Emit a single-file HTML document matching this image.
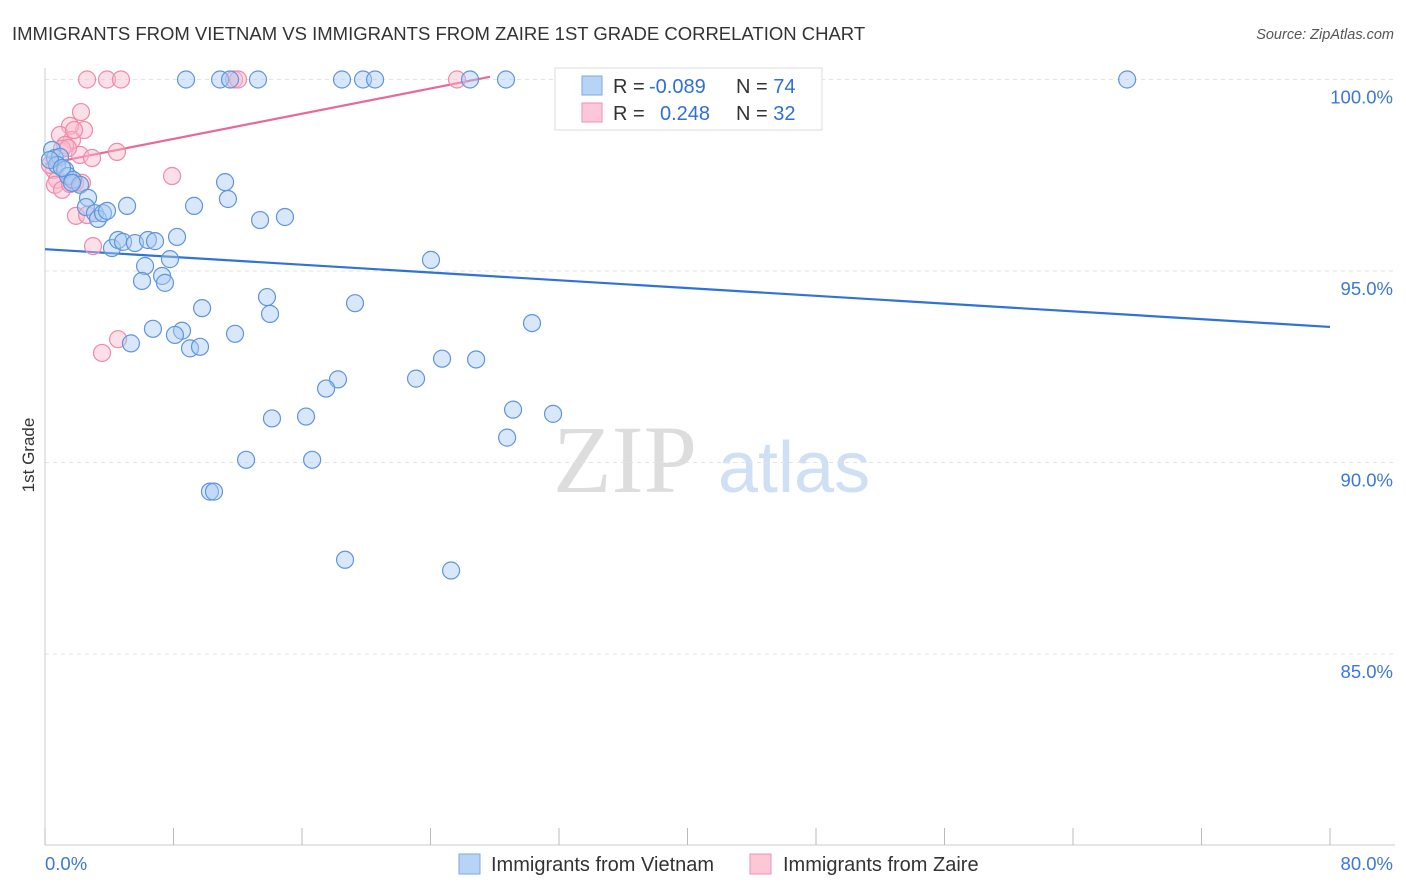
<!DOCTYPE html>
<html><head><meta charset="utf-8"><style>
body{margin:0;background:#fff;font-family:"Liberation Sans",sans-serif;}
#wrap{position:relative;width:1406px;height:892px;overflow:hidden;}
</style></head><body>
<div id="wrap">
<svg id="chart" width="1406" height="892">
<text x="12" y="40" font-size="18.5" fill="#333">IMMIGRANTS FROM VIETNAM VS IMMIGRANTS FROM ZAIRE 1ST GRADE CORRELATION CHART</text>
<text x="1394" y="39" font-size="14.5" fill="#555" font-style="italic" text-anchor="end">Source: ZipAtlas.com</text>
<text transform="translate(34,455) rotate(-90)" font-size="17" fill="#333" text-anchor="middle">1st Grade</text>
<g>
<text x="553" y="492" font-family="Liberation Serif,serif" font-size="96" fill="#ddd">ZIP</text>
<text x="718" y="492" font-size="72" fill="#cfe0f4">atlas</text>
</g>
<g id="grid"></g><g id="axes"></g><g id="lines"></g><g id="pts"></g>
<g>
<rect x="555" y="68" width="267" height="62" fill="#fff" stroke="#ddd"/>
<rect x="582" y="76" width="20" height="19" fill="#b8d4f5" stroke="#7aaae6"/>
<rect x="582" y="103" width="20" height="19" fill="#fcc8d8" stroke="#f090b0"/>
<text x="613" y="93" font-size="20" fill="#333">R = <tspan x="649" fill="#2f6fd6">-0.089</tspan><tspan x="736">N = </tspan><tspan fill="#2f6fd6">74</tspan></text>
<text x="613" y="120" font-size="20" fill="#333">R = <tspan x="660" fill="#2f6fd6">0.248</tspan><tspan x="736">N = </tspan><tspan fill="#2f6fd6">32</tspan></text>
</g>
<g>
<rect x="459" y="854" width="21" height="20" fill="#b8d4f5" stroke="#7aaae6"/>
<text x="491" y="871" font-size="20" fill="#333">Immigrants from Vietnam</text>
<rect x="750" y="854" width="21" height="20" fill="#fcc8d8" stroke="#f090b0"/>
<text x="783" y="871" font-size="20" fill="#333">Immigrants from Zaire</text>
</g>
</svg>
</div>
<script>
const yTicks=[100,95,90,85];
const yTickLabels=["100.0%","95.0%","90.0%","85.0%"];
const xTickLabels=["0.0%","80.0%"];
const vietX=[0.44,0.62,0.93,0.75,1.25,1.43,1.74,2.18,2.68,2.55,3.11,3.30,3.61,3.86,5.11,4.17,4.55,4.86,5.60,6.41,6.85,8.22,6.23,7.29,6.04,7.47,7.78,9.28,11.21,11.39,13.39,14.94,24.03,9.78,13.82,14.01,19.30,30.32,6.72,8.53,8.09,11.83,5.35,9.03,9.65,24.72,26.84,18.24,17.50,23.10,14.13,16.25,29.14,31.63,28.77,12.52,16.63,10.27,10.52,18.68,25.28,8.78,10.90,11.52,13.26,18.49,19.80,20.55,26.46,28.70,43.15,67.37,0.31,1.06,1.68];
const vietY=[98.16,97.95,97.98,97.77,97.64,97.48,97.38,97.25,96.91,96.67,96.51,96.36,96.51,96.57,96.70,95.60,95.81,95.76,95.73,95.81,95.78,95.89,95.13,94.87,94.74,94.69,95.31,96.70,97.32,96.88,96.33,96.41,95.29,94.03,94.32,93.88,94.16,93.64,93.49,93.44,93.33,93.36,93.11,92.98,93.02,92.71,92.69,92.17,91.93,92.19,91.15,91.20,91.38,91.27,90.65,90.07,90.07,89.24,89.24,87.46,87.18,100,100,100,100,100,100,100,100,100,100,100,97.90,97.69,97.30];
const zaireX=[2.62,3.86,4.73,11.77,12.02,25.65,2.24,2.43,1.56,0.93,1.68,1.25,1.06,2.18,2.93,4.48,0.56,0.75,0.62,1.87,1.06,1.56,2.30,1.93,2.62,2.99,7.91,4.55,3.55,0.31,1.43,1.81];
const zaireY=[100,100,100,100,100,100,99.15,98.68,98.79,98.55,98.42,98.29,98.19,98.03,97.95,98.11,97.64,97.38,97.25,97.30,97.12,97.27,97.30,96.44,96.46,95.65,97.48,93.22,92.86,97.77,98.21,98.68];
const vietTrend=[[0,95.57],[80,93.54]];
const zaireTrend=[[0,97.79],[27.7,100.07]];
const NS="http://www.w3.org/2000/svg";
const X0=45,X1=1330,Y100=79.5,PPY=38.3;
const sx=v=>X0+(X1-X0)*v/80;
const sy=v=>Y100+(100-v)*PPY;
function mk(tag,attrs,parent){const e=document.createElementNS(NS,tag);for(const k in attrs)e.setAttribute(k,attrs[k]);parent.appendChild(e);return e;}
const grid=document.getElementById('grid'),axes=document.getElementById('axes'),lines=document.getElementById('lines'),pts=document.getElementById('pts');
yTicks.forEach((t,i)=>{
 const l=mk('line',{x1:X0,x2:1395,y1:sy(t),y2:sy(t),stroke:'#e3e3e3','stroke-dasharray':'4,4'},grid);
 
 
 const tx=mk('text',{x:1393,y:sy(t)+24,'font-size':18.5,fill:'#3b78d8','text-anchor':'end'},axes);
 tx.textContent=yTickLabels[i];
 
 
});
const ya=mk('line',{x1:X0,x2:X0,y1:68,y2:845,stroke:'#ccc'},axes);


const xa=mk('line',{x1:X0,x2:1395,y1:845,y2:845,stroke:'#ccc'},axes);


for(let i=0;i<=10;i++){
 const t=mk('line',{x1:sx(i*8),x2:sx(i*8),y1:828,y2:845,stroke:'#bbb'},axes);
 
 
}
[[0,'start',45],[80,'end',1393]].forEach((d,i)=>{
 const tx=mk('text',{x:d[2],y:870,'font-size':18.5,fill:'#3b78d8','text-anchor':d[1]},axes);
 tx.textContent=xTickLabels[i];
 
 
});
function drawPts(xs,ys,fill,stroke,name){
 xs.forEach((x,i)=>{
  const c=mk('circle',{cx:sx(x),cy:sy(ys[i]),r:8.5,fill:fill,'fill-opacity':0.45,stroke:stroke,'stroke-width':1.2},pts);
  
  
 });
}
drawPts(zaireX,zaireY,'#fbb8cc','#ee8aab','zaire-point');
drawPts(vietX,vietY,'#a9c9f2','#5f95de','vietnam-point');
const lb=mk('line',{x1:sx(vietTrend[0][0]),y1:sy(vietTrend[0][1]),x2:sx(vietTrend[1][0]),y2:sy(vietTrend[1][1]),stroke:'#2f72d8','stroke-width':2.2},lines);


const lp=mk('line',{x1:sx(zaireTrend[0][0]),y1:sy(zaireTrend[0][1]),x2:sx(zaireTrend[1][0]),y2:sy(zaireTrend[1][1]),stroke:'#e8689a','stroke-width':2.2},lines);


</script>
</body></html>
